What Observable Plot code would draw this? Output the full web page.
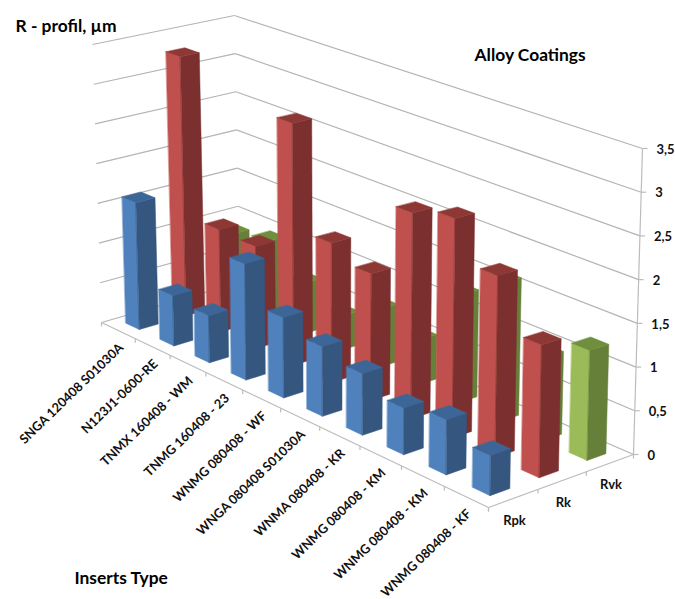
<!DOCTYPE html>
<html>
<head>
<meta charset="utf-8">
<style>
  html, body { margin: 0; padding: 0; background: #fff; }
  svg { display: block; }
</style>
<script src="https://cdn.jsdelivr.net/npm/d3@7"></script>
<script src="https://cdn.jsdelivr.net/npm/@observablehq/plot@0.6"></script>
</head>
<body>
<div id="chart"></div>
<script>
// Roughness parameters per insert type (micrometres)
const categories = [
  "SNGA 120408 S01030A", "N123J1-0600-RE", "TNMX 160408 - WM", "TNMG 160408 - 23",
  "WNMG 080408 - WF", "WNGA 080408 S01030A", "WNMA 080408 - KR", "WNMG 080408 - KM",
  "WNMG 080408 - KM", "WNMG 080408 - KF"
];
const seriesNames = ["Rpk", "Rk", "Rvk"];
const rpk = [1.59, 0.62, 0.575, 1.40, 0.955, 0.815, 0.71, 0.53, 0.615, 0.44];
const rk  = [3.29, 1.28, 1.26, 2.955, 1.68, 1.505, 2.41, 2.53, 2.065, 1.485];
const rvk = [0.87, 0.97, 0.63, 0.42, 0.71, 0.54, 1.28, 1.62, 0.96, 1.25];
const seriesValues = [rpk, rk, rvk];
const valueTicks = [0, 0.5, 1, 1.5, 2, 2.5, 3, 3.5];
const valueMax = 3.5;

// front, side and top shades of each series
const shades = [
  {front: "#4f81bd", side: "#35577f", top: "#3c6697"},
  {front: "#c0504d", side: "#7b2f2e", top: "#8e3836"},
  {front: "#9bbb59", side: "#66803a", top: "#6f8f3d"}
];

// Camera of the 3-D box: floor and ceiling quadrilaterals on the page,
// ordered left, front, right, back.
const floorQuad = [[101, 322], [488, 507], [633, 454], [239, 282]];
const ceilingQuad = [[92, 44], [492, 185], [642, 148], [234, 15]];

function quadMap([[x0, y0], [x1, y1], [x2, y2], [x3, y3]]) {
  const dx1 = x1 - x2, dx2 = x3 - x2, sx = x0 - x1 + x2 - x3;
  const dy1 = y1 - y2, dy2 = y3 - y2, sy = y0 - y1 + y2 - y3;
  const den = dx1 * dy2 - dx2 * dy1;
  const g = (sx * dy2 - dx2 * sy) / den, h = (dx1 * sy - sx * dy1) / den;
  const a = x1 - x0 + g * x1, b = x3 - x0 + h * x3;
  const d = y1 - y0 + g * y1, e = y3 - y0 + h * y3;
  return (s, t) => {
    const w = g * s + h * t + 1;
    return [(a * s + b * t + x0) / w, (d * s + e * t + y0) / w];
  };
}
const floorMap = quadMap(floorQuad), ceilingMap = quadMap(ceilingQuad);

// cat: 0..10 along the insert axis, ser: 0..3 in depth, val: height
function project(cat, ser, val) {
  const s = cat / categories.length, t = ser / seriesNames.length, f = val / valueMax;
  const [x0, y0] = floorMap(s, t), [x1, y1] = ceilingMap(s, t);
  return [x0 + (x1 - x0) * f, y0 + (y1 - y0) * f];
}

// Bars fill 40% of their cell in both directions (gap width 150%)
const gap = 0.3;
const faces = [];
function addFace(id, fill, corners) {
  for (const c of corners) {
    const [x, y] = project(...c);
    faces.push({id, fill, x, y});
  }
}
// painted back to front
for (let j = seriesNames.length - 1; j >= 0; j--) {
  seriesValues[j].forEach((v, i) => {
    const x0 = i + gap, x1 = i + 1 - gap, z0 = j + gap, z1 = j + 1 - gap;
    const c = shades[j];
    addFace(`${j}-${i}-front`, c.front, [[x0, z0, 0], [x1, z0, 0], [x1, z0, v], [x0, z0, v]]);
    addFace(`${j}-${i}-side`, c.side, [[x1, z0, 0], [x1, z1, 0], [x1, z1, v], [x1, z0, v]]);
    addFace(`${j}-${i}-top`, c.top, [[x0, z0, v], [x1, z0, v], [x1, z1, v], [x0, z1, v]]);
  });
}

const nCat = categories.length, nSer = seriesNames.length;
const segment = (a, b) => {
  const p = project(...a), q = project(...b);
  return {x1: p[0], y1: p[1], x2: q[0], y2: q[1]};
};
// Gridlines on the two walls
const gridLines = valueTicks.flatMap(v => [
  segment([0, 0, v], [0, nSer, v]),
  segment([0, nSer, v], [nCat, nSer, v])
]);
// Axis lines and tick marks
const axisLines = [
  segment([0, 0, 0], [nCat, 0, 0]),
  segment([nCat, 0, 0], [nCat, nSer, 0]),
  segment([nCat, nSer, 0], [nCat, nSer, valueMax]),
  ...d3.range(nCat + 1).map(i => {
    const s = segment([i, 0, 0], [i, 0, 0]);
    return {...s, y2: s.y2 + 4};
  }),
  ...d3.range(nSer + 1).map(j => {
    const s = segment([nCat, j, 0], [nCat, j, 0]);
    return {...s, y2: s.y2 + 4};
  }),
  ...valueTicks.map(v => {
    const s = segment([nCat, nSer, v], [nCat, nSer, v]);
    return {...s, x2: s.x2 + 5};
  })
];

const categoryLabels = categories.map((label, i) => {
  const [x, y] = project(i + 0.5, 0, 0);
  return {label, x, y};
});
const seriesLabels = seriesNames.map((label, j) => {
  const [x, y] = project(nCat, j + 0.5, 0);
  return {label, x, y};
});
const valueLabels = valueTicks.map(v => {
  const [x, y] = project(nCat, nSer, v);
  return {label: String(v).replace(".", ","), x, y};
});

const titles = [
  {label: "R - profil, \u00b5m", x: 15, y: 26},
  {label: "Alloy Coatings", x: 474, y: 55},
  {label: "Inserts Type", x: 74, y: 578}
];

const chart = Plot.plot({
  width: 675,
  height: 599,
  margin: 0,
  x: {domain: [0, 675], range: [0, 675], axis: null},
  y: {domain: [0, 599], range: [0, 599], axis: null},
  style: {fontFamily: "Lato, sans-serif", fontWeight: "bold", background: "#fff", color: "#000"},
  marks: [
    Plot.link(gridLines, {x1: "x1", y1: "y1", x2: "x2", y2: "y2", stroke: "#b4b4b4", strokeWidth: 1.2, curve: "linear"}),
    Plot.link(axisLines, {x1: "x1", y1: "y1", x2: "x2", y2: "y2", stroke: "#bcbcbc", strokeWidth: 1.2, curve: "linear"}),
    Plot.line(faces, {x: "x", y: "y", z: "id", fill: "fill", stroke: "fill", strokeWidth: 0.5, curve: "linear-closed"}),
    Plot.text(categoryLabels, {x: "x", y: "y", text: "label", rotate: -44, textAnchor: "end", dx: 3, dy: 15, fontSize: 12.8, fill: "#111"}),
    Plot.text(seriesLabels, {x: "x", y: "y", text: "label", dx: 1, dy: 22, fontSize: 13, fill: "#111"}),
    Plot.text(valueLabels, {x: "x", y: "y", text: "label", textAnchor: "start", dx: 14, dy: 1, fontSize: 13, fill: "#111"}),
    Plot.text(titles, {x: "x", y: "y", text: "label", textAnchor: "start", fontSize: 17.4, fill: "#000"})
  ]
});
document.getElementById("chart").append(chart);
</script>
</body>
</html>
